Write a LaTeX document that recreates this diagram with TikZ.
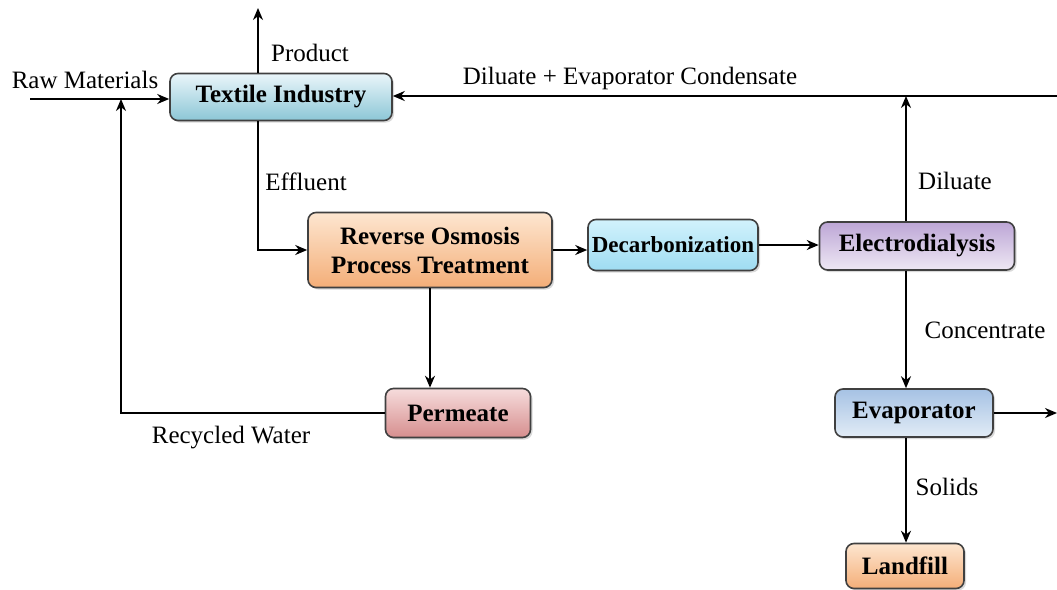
\documentclass[tikz,border=0pt]{standalone}
\usepackage{fontspec}
\setmainfont{Liberation Serif}
\usepackage{tikz}
\usetikzlibrary{arrows.meta,shadows}
\definecolor{tiTop}{HTML}{EAF6FA}
\definecolor{tiBot}{HTML}{8CC6D6}
\definecolor{roTop}{HTML}{FDE6D0}
\definecolor{roBot}{HTML}{F4AE78}
\definecolor{dcTop}{HTML}{D2F2FC}
\definecolor{dcBot}{HTML}{9EDCF2}
\definecolor{edTop}{HTML}{BDA6D6}
\definecolor{edBot}{HTML}{EEE8F4}
\definecolor{evTop}{HTML}{A6C2E4}
\definecolor{evBot}{HTML}{E2ECF6}
\definecolor{pmTop}{HTML}{F6DCDC}
\definecolor{pmBot}{HTML}{D68E8E}

\begin{document}
\begin{tikzpicture}[x=0.5pt,y=-0.5pt,
  unit/.style={draw=black!75,line width=0.8pt,rounded corners=4pt,align=center,
    font=\fontsize{12.5}{14.5}\selectfont\bfseries,inner sep=2pt,
    drop shadow={shadow xshift=1pt,shadow yshift=-1pt,opacity=0.3}},
  flow/.style={line width=1.2pt,-{Stealth[length=6pt,width=5pt]}},
  tag/.style={font=\fontsize{12.5}{14.5}\selectfont}]
\useasboundingbox (0,0) rectangle (1057,590);

\node[unit,top color=tiTop,bottom color=tiBot,minimum width=111pt,minimum height=23.5pt] (ti) at (281,97) {Textile Industry};
\node[unit,top color=roTop,bottom color=roBot,minimum width=122pt,minimum height=37.5pt] (ro) at (430,250) {Reverse Osmosis\\Process Treatment};
\node[unit,top color=dcTop,bottom color=dcBot,minimum width=85pt,minimum height=25.5pt,font=\fontsize{11.5}{13.5}\selectfont\bfseries,inner xsep=1pt] (dc) at (673,245) {Decarbonization};
\node[unit,top color=edTop,bottom color=edBot,minimum width=97.5pt,minimum height=24pt] (ed) at (917,246) {Electrodialysis};
\node[unit,top color=evTop,bottom color=evBot,minimum width=79pt,minimum height=24pt] (ev) at (914,413) {Evaporator};
\node[unit,top color=pmTop,bottom color=pmBot,minimum width=72.5pt,minimum height=24.5pt] (pm) at (458,413) {Permeate};
\node[unit,top color=roTop,bottom color=roBot,minimum width=59pt,minimum height=22.5pt] (lf) at (905,566) {Landfill};

\coordinate (rm) at (30,99);
\coordinate (rj) at (121,99);
\coordinate (px) at (258,0);
\coordinate (pt) at (258,8);
\coordinate (dx) at (906,0);
\coordinate (re1) at (1057,96);
\coordinate (re2) at (1057,413);

\draw[flow] (rm) -- (rm -| ti.west);
\draw[flow] (ti.north -| px) -- (pt);
\draw[flow] (ti.south -| px) |- (ro.west);
\draw[flow] (ro.east) -- (ro.east -| dc.west);
\draw[flow] (dc.east) -- (dc.east -| ed.west);
\draw[flow] (ed.north -| dx) -- (dx |- re1);
\draw[flow] (re1) -- (re1 -| ti.east);
\draw[flow] (ed.south -| dx) -- (dx |- ev.north);
\draw[flow] (ev.east) -- (re2);
\draw[flow] (ev.south -| dx) -- (dx |- lf.north);
\draw[flow] (ro.south) -- (ro.south |- pm.north);
\draw[flow] (pm.west) -| (rj);

\node[tag] (raw) at (85,80) {Raw Materials};
\node[tag] (prod) at (310,53) {Product};
\node[tag] (eff) at (306,182) {Effluent};
\node[tag] (cond) at (630,78) {Diluate + Evaporator Condensate};
\node[tag] (dil) at (955,181) {Diluate};
\node[tag] (conc) at (985,330) {Concentrate};
\node[tag] (sol) at (947,487) {Solids};
\node[tag] (rec) at (231,438) {Recycled Water};
\end{tikzpicture}
\end{document}
